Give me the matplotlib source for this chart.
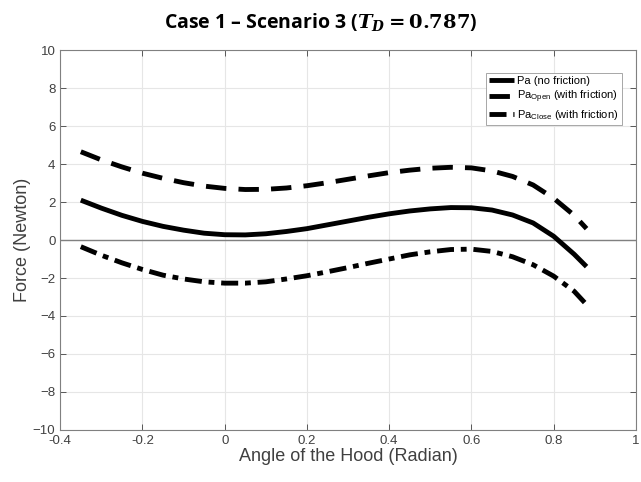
import numpy as np
import matplotlib
matplotlib.use('Agg')
import matplotlib.pyplot as plt

# values
angle = [-0.35, -0.3, -0.25, -0.2, -0.15, -0.1, -0.05, 0.0, 0.05, 0.1, 0.15, 0.2, 0.25,
         0.3, 0.35, 0.4, 0.45, 0.5, 0.55, 0.6, 0.65, 0.7, 0.75, 0.8, 0.85, 0.88]
pa = [2.1, 1.68, 1.3, 0.98, 0.72, 0.52, 0.36, 0.28, 0.27, 0.33, 0.45, 0.6, 0.8,
      1.0, 1.2, 1.38, 1.53, 1.64, 1.71, 1.7, 1.58, 1.32, 0.9, 0.2, -0.75, -1.4]
pa_open = [4.65, 4.22, 3.85, 3.52, 3.25, 3.02, 2.84, 2.72, 2.66, 2.67, 2.74, 2.86, 3.02,
           3.2, 3.38, 3.55, 3.68, 3.78, 3.83, 3.8, 3.64, 3.35, 2.9, 2.2, 1.3, 0.6]
pa_close = [-0.35, -0.8, -1.2, -1.55, -1.85, -2.05, -2.2, -2.27, -2.27, -2.2, -2.05, -1.88, -1.67,
            -1.45, -1.22, -1.0, -0.78, -0.62, -0.5, -0.48, -0.6, -0.88, -1.3, -1.9, -2.7, -3.4]

xticks = [-0.4, -0.2, 0, 0.2, 0.4, 0.6, 0.8, 1]
xticklabels = ['-0.4', '-0.2', '0', '0.2', '0.4', '0.6', '0.8', '1']
yticks = [-10, -8, -6, -4, -2, 0, 2, 4, 6, 8, 10]

plt.rcParams['font.family'] = ['Liberation Sans', 'DejaVu Sans']
plt.rcParams['mathtext.fontset'] = 'custom'
plt.rcParams['mathtext.rm'] = 'Liberation Sans'
plt.rcParams['mathtext.it'] = 'DejaVu Serif:italic:bold'
plt.rcParams['mathtext.bf'] = 'DejaVu Serif:bold'

fig = plt.figure(figsize=(6.41, 4.82), dpi=100)
ax = fig.add_axes([0.094, 0.108, 0.898, 0.788])

ax.axhline(0, color='#808080', lw=1.0, zorder=1)
ax.plot(angle, pa, color='black', lw=3.5, solid_capstyle='butt', label='Pa (no friction)')
ax.plot(angle, pa_open, color='black', lw=3.5, dashes=(4.2, 2.5), label='Pa$_{\\mathrm{Open}}$ (with friction)')
ax.plot(angle, pa_close, color='black', lw=3.5, dashes=(3.5, 1.4, 1.2, 1.4), label='Pa$_{\\mathrm{Close}}$ (with friction)')

ax.set_xlim(-0.4, 1)
ax.set_ylim(-10, 10)
ax.set_xticks(xticks)
ax.set_xticklabels(xticklabels)
ax.set_yticks(yticks)
ax.grid(True, color='#e6e6e6', lw=0.8)
ax.set_axisbelow(True)
ax.tick_params(direction='in', top=True, right=True, length=4, labelsize=9.5,
               colors='#404040', width=0.6)
for s in ax.spines.values():
    s.set_color('#808080')
    s.set_linewidth(0.8)

ax.set_xlabel('Angle of the Hood (Radian)', fontsize=13, color='#404040', labelpad=1)
ax.set_ylabel('Force (Newton)', fontsize=13, color='#404040', labelpad=1)

leg = ax.legend(loc='upper right', bbox_to_anchor=(0.985, 0.955), fontsize=8,
                handlelength=2.2, handletextpad=0.3, borderpad=0.3, labelspacing=0.25,
                fancybox=False, framealpha=1, edgecolor='#999999')
leg.get_frame().set_linewidth(0.6)

fig.text(0.5, 0.955, r'Case 1 – Scenario 3 ($\mathit{T_D} \mathbf{= 0.787}$)',
         ha='center', va='center', fontsize=14, fontweight='bold',
         family=['Open Sans', 'DejaVu Sans'])

plt.savefig('out.png', dpi=100)
